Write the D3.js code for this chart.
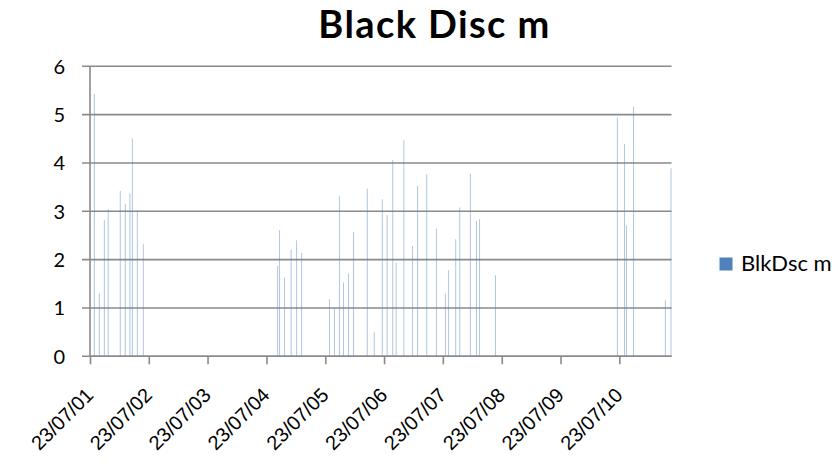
<!DOCTYPE html>
<html>
<head>
<meta charset="utf-8">
<script src="https://cdn.jsdelivr.net/npm/d3@7"></script>
<style>
  html, body { margin: 0; padding: 0; background: #fff; }
  svg { display: block; font-family: Lato, "Noto Sans", sans-serif; }
</style>
</head>
<body>
<svg id="chart" width="838" height="473"></svg>
<script>
// Sample dates (ISO) and black disc readings in metres
const sampleDates = [
  "2001-08-19", "2001-09-19", "2001-10-20", "2001-11-13", "2002-01-27",
  "2002-02-27", "2002-03-28", "2002-04-12", "2002-05-13", "2002-06-19",
  "2004-09-30", "2004-10-12", "2004-11-12", "2004-12-23", "2005-01-26",
  "2005-02-26", "2005-08-18", "2005-09-18", "2005-10-19", "2005-11-13",
  "2005-12-14", "2006-01-14", "2006-04-10", "2006-05-23", "2006-07-12",
  "2006-08-11", "2006-09-15", "2006-10-06", "2006-11-23", "2007-01-16",
  "2007-02-16", "2007-04-14", "2007-06-13", "2007-08-08", "2007-08-27",
  "2007-10-11", "2007-11-05", "2008-01-10", "2008-02-17", "2008-03-07",
  "2008-06-14", "2010-07-11", "2010-08-24", "2010-09-05", "2010-10-19",
  "2011-05-05", "2011-06-09"
];
const blkDscValues = [
  5.43, 1.30, 2.82, 3.04, 3.42,
  3.16, 3.37, 4.51, 3.01, 2.32,
  1.87, 2.61, 1.63, 2.21, 2.40,
  2.14, 1.18, 0.98, 3.31, 1.53,
  1.72, 2.57, 3.47, 0.50, 3.25,
  2.92, 4.06, 1.94, 4.47, 2.28,
  3.53, 3.77, 2.64, 1.30, 1.78,
  2.42, 3.08, 3.78, 2.80, 2.84,
  1.68, 4.94, 4.39, 2.71, 5.17,
  1.16, 3.89
];
const tickDates = [
  "2001-07-23", "2002-07-23", "2003-07-23", "2004-07-23", "2005-07-23",
  "2006-07-23", "2007-07-23", "2008-07-23", "2009-07-23", "2010-07-23"
];
const yTicks = [0, 1, 2, 3, 4, 5, 6];
const chartTitle = "Black Disc m";
const seriesName = "BlkDsc m";

const parse = d3.utcParse("%Y-%m-%d");
const fmt = d3.utcFormat("%d/%m/%y");
const rows = sampleDates.map((d, i) => ({ date: parse(d), value: blkDscValues[i] }));

const svg = d3.select("#chart");
const plot = { left: 90, right: 671.5, top: 66.3, bottom: 356.3 };

const x = d3.scaleUtc()
  .domain([parse("2001-07-23"), parse("2011-06-12")])
  .range([plot.left, plot.right]);
const y = d3.scaleLinear().domain([0, 6]).range([plot.bottom, plot.top]);

const gridColor = "#8a8a8a";

// horizontal gridlines, extended left as outside tick marks
svg.append("g")
  .selectAll("line")
  .data(yTicks)
  .join("line")
  .attr("x1", plot.left - 8)
  .attr("x2", plot.right)
  .attr("y1", d => y(d))
  .attr("y2", d => y(d))
  .attr("stroke", gridColor)
  .attr("stroke-width", 1.6);

// bars
svg.append("g")
  .selectAll("rect")
  .data(rows)
  .join("rect")
  .attr("x", d => x(d.date) - 0.5)
  .attr("width", 1)
  .attr("y", d => y(d.value))
  .attr("height", d => plot.bottom - y(d.value))
  .attr("fill", "#4f81bd")
  .attr("fill-opacity", 0.45);

// y axis line
svg.append("line")
  .attr("x1", plot.left).attr("x2", plot.left)
  .attr("y1", plot.top).attr("y2", plot.bottom)
  .attr("stroke", gridColor).attr("stroke-width", 1.6);

// x axis with outside ticks and rotated date labels
const xAxis = d3.axisBottom(x)
  .tickValues(tickDates.map(parse))
  .tickFormat(fmt)
  .tickSize(8)
  .tickSizeOuter(0);

const gx = svg.append("g")
  .attr("transform", `translate(0,${plot.bottom})`)
  .call(xAxis);
gx.select(".domain").attr("stroke", gridColor).attr("stroke-width", 1.6)
  .attr("d", `M${plot.left},0H${plot.right}`);
gx.selectAll(".tick line").attr("stroke", gridColor).attr("stroke-width", 1.6);
gx.selectAll(".tick text")
  .attr("fill", "#000")
  .style("font-size", "20px")
  .attr("text-anchor", "end")
  .attr("dy", null)
  .attr("y", 0)
  .attr("transform", "translate(4,40) rotate(-45)");

// y axis labels
svg.append("g")
  .selectAll("text")
  .data(yTicks)
  .join("text")
  .attr("x", 65)
  .attr("y", d => y(d))
  .attr("dy", "0.36em")
  .attr("text-anchor", "end")
  .style("font-size", "20px")
  .attr("fill", "#000")
  .text(d => d);

// title
svg.append("text")
  .attr("x", 434.5)
  .attr("y", 38)
  .attr("text-anchor", "middle")
  .style("font-size", "38px")
  .style("font-weight", "bold")
  .style("letter-spacing", "1.4px")
  .attr("fill", "#000")
  .text(chartTitle);

// legend
const lg = svg.append("g").attr("transform", "translate(719.5,257.5)");
lg.append("rect").attr("width", 13).attr("height", 13).attr("fill", "#4f81bd");
lg.append("text")
  .attr("x", 21.5).attr("y", 13.5)
  .style("font-size", "22px")
  .attr("fill", "#000")
  .text(seriesName);
</script>
</body>
</html>
